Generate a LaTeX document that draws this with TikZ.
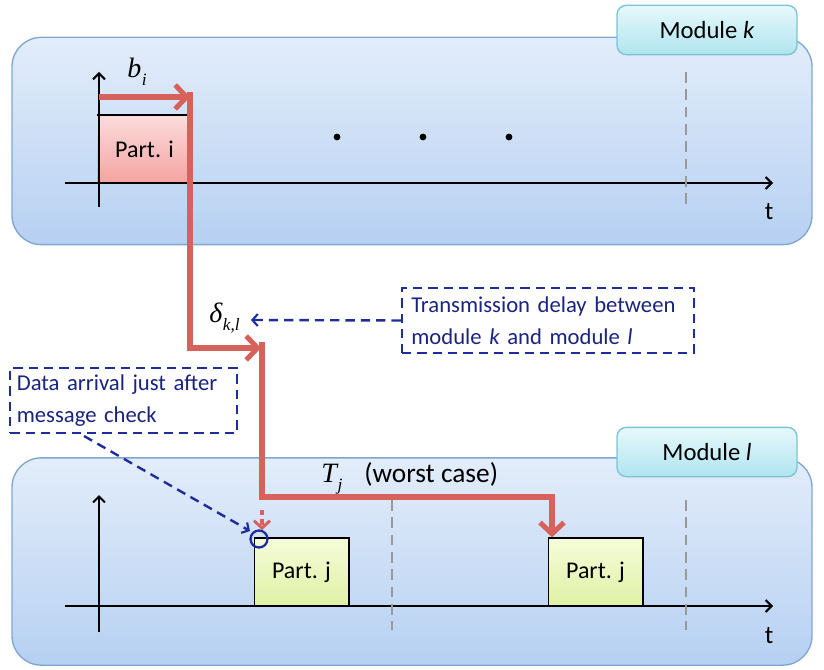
\documentclass[tikz,border=0pt]{standalone}
\usepackage{fontspec}
\setmainfont{Carlito}
\newfontfamily\tms{Liberation Serif}
\usetikzlibrary{arrows.meta}
\definecolor{panelTop}{HTML}{E3EDFA}
\definecolor{panelBot}{HTML}{B6D0F2}
\definecolor{panelEdge}{HTML}{7FA6D2}
\definecolor{tabTop}{HTML}{E6F9FC}
\definecolor{tabBot}{HTML}{B0E4EF}
\definecolor{tabEdge}{HTML}{7CC3D4}
\definecolor{redline}{HTML}{D6625B}
\definecolor{navy}{HTML}{1F2C9C}
\definecolor{textnavy}{HTML}{1A237E}
\definecolor{pinkTop}{HTML}{FBDCDC}
\definecolor{pinkBot}{HTML}{F4A3A0}
\definecolor{greenTop}{HTML}{F5FCDA}
\definecolor{greenBot}{HTML}{E0F1A4}
\definecolor{grayline}{HTML}{999999}
\newcommand\sublbl[2]{{\tms\itshape #1\kern0.5pt\raisebox{-6pt}{\fontsize{13}{13}\selectfont #2}}}
\tikzset{
  panel/.style={draw=panelEdge, line width=1pt, rounded corners=22pt, top color=panelTop, bottom color=panelBot,
    minimum width=600pt, minimum height=155.5pt, inner sep=0pt},
  tab/.style={draw=tabEdge, line width=1pt, rounded corners=7pt, top color=tabTop, bottom color=tabBot,
    minimum width=135pt, minimum height=37pt, font=\fontsize{18.5}{22}\selectfont},
  axis/.style={line width=1.7pt, -{Straight Barb[length=4.5pt,width=9pt,line width=1.5pt]}},
  redpath/.style={draw=redline, line width=3.8pt, line join=miter},
  redtip/.style={-{Straight Barb[length=8.5pt,width=18pt,line width=3.8pt]}},
  note/.style={draw=navy, line width=1.8pt, dash pattern=on 7pt off 4.5pt, text=textnavy, align=left,
    font=\fontsize{17}{24}\selectfont, inner sep=0pt, text width=200pt},
  bluearrow/.style={draw=navy, line width=1.8pt, dash pattern=on 7pt off 4.5pt,
    -{Straight Barb[length=4pt,width=9pt,line width=1.6pt]}},
  period/.style={draw=grayline, line width=1.8pt, dash pattern=on 8pt off 5pt},
  partbox/.style={minimum width=71pt, minimum height=51pt, inner sep=0pt, font=\fontsize{18}{22}\selectfont},
  lbl/.style={font=\fontsize{19}{22}\selectfont, inner sep=0pt},
  mathlbl/.style={font=\fontsize{21}{24}\selectfont, inner sep=0pt, anchor=base west}
}
\begin{document}
\begin{tikzpicture}[x=0.75pt,y=-0.75pt]
\useasboundingbox (0,0) rectangle (824,670);
% panels
\node[panel] (pk) at (412,141) {};
\node[panel] (pl) at (412,561.5) {};
\node[tab] (tk) at (707,30) {Module \textit{k}};
\node[tab] (tl) at (707,452) {Module \textit{l}};

% ---- module k ----
\node[partbox, top color=pinkTop, bottom color=pinkBot] (pi) at (144.5,149.5) {Part. i};
\draw[line width=1.2pt] (pi.north west) -- (pi.north east);
\coordinate (ky0) at (99,207);
\coordinate (ky1) at (99,72);
\coordinate (kx0) at (65,183);
\coordinate (kx1) at (773,183);
\draw[axis] (ky0) -- (ky1);
\draw[axis] (kx0) -- (kx1);
\node[lbl] (tk1) at (769,212) {t};
\draw[period] (686,72) coordinate (pk1) -- (686,208) coordinate (pk2);
\foreach \x/\n in {337/d1,423/d2,509/d3} \fill (\x,137) coordinate (\n) circle (3.4);
\node[mathlbl] (bi) at (127,78) {\sublbl{b}{i}};

% ---- module l ----
\node[partbox, draw, line width=1pt, top color=greenTop, bottom color=greenBot] (pj1) at (301.5,572) {Part. j};
\node[partbox, draw, line width=1pt, top color=greenTop, bottom color=greenBot] (pj2) at (595.5,572) {Part. j};
\coordinate (ly0) at (99,632);
\coordinate (ly1) at (99,495);
\coordinate (lx0) at (65,606);
\coordinate (lx1) at (773,606);
\draw[axis] (ly0) -- (ly1);
\draw[axis] (lx0) -- (lx1);
\node[lbl] (tl1) at (769,636) {t};
\draw[period] (392,500) -- (392,630);
\draw[period] (686,500) -- (686,630);

% ---- red path ----
\coordinate (b0) at (99,97);
\coordinate (r0) at (190,92);
\coordinate (r1) at (190,348);
\coordinate (r2) at (261,348);
\coordinate (s0) at (262,342);
\coordinate (s1) at (262,497);
\coordinate (s2) at (552,497);
\draw[redpath, redtip] (b0) -- (r0 |- b0);
\draw[redpath, redtip] (r0) -- (r1) -- (r2);
\draw[redpath, redtip] (s0) -- (s1) -- (s2) -- (pj2.north west -| s2);
\draw[draw=redline, line width=2.4pt, dash pattern=on 4pt off 3pt,
  -{Straight Barb[length=5.5pt,width=12pt,line width=2.2pt]}] (262,510) -- (262,530);

\node[mathlbl] (dkl) at (209,322) {\sublbl{δ}{k,l}};
\node[mathlbl] (tj) at (321,482) {\sublbl{T}{j}};
\node[lbl, anchor=base west, font=\fontsize{20.5}{24}\selectfont] (wc) at (364,482) {(worst case)};

% ---- notes ----
\node[note, minimum width=219pt, minimum height=48.75pt, text width=205pt] (n1) at (548,320.5)
  {Transmission delay between\\module \textit{k} and module \textit{l}};
\node[note, minimum width=170pt, minimum height=48.75pt, text width=160pt] (n2) at (123.5,400.5)
  {Data arrival just after\\message check};
\draw[bluearrow] (n1.west) -- (251,320);
\draw[navy, line width=1.7pt] (259,539) coordinate (c0) circle (8.5);
\draw[bluearrow] (84,436) -- (250,531);
\end{tikzpicture}
\end{document}
